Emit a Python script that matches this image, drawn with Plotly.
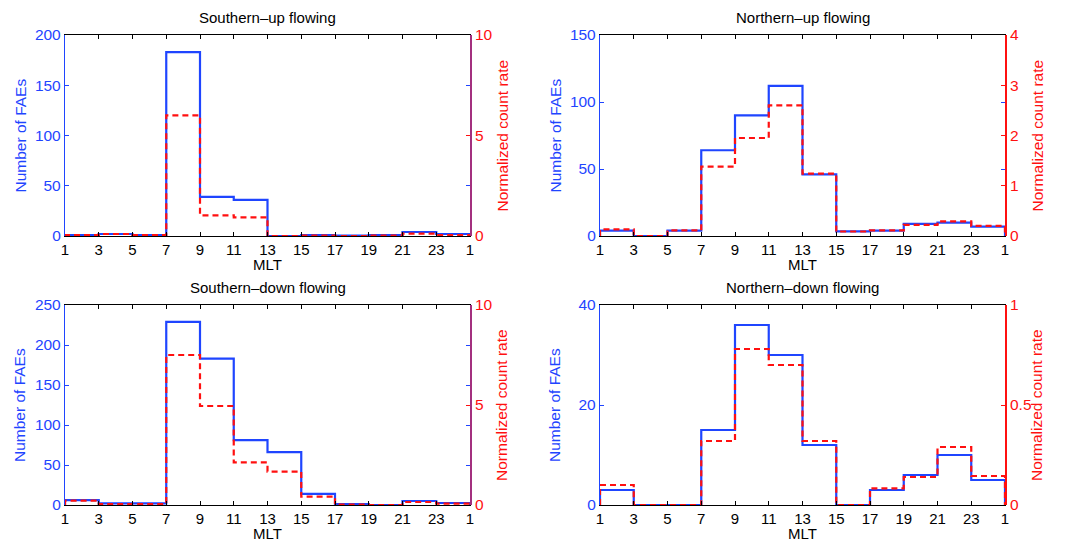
import plotly.graph_objects as go

# ---------------- data ----------------
MLT_LABELS = ["1", "3", "5", "7", "9", "11", "13", "15", "17", "19", "21", "23", "1"]

TITLES = ["Southern\u2013up flowing", "Northern\u2013up flowing",
          "Southern\u2013down flowing", "Northern\u2013down flowing"]

# number of FAEs per 2-h MLT bin (1-3, 3-5, ..., 23-1)
su_count = [1, 2, 1, 183, 39, 36, 0, 1, 0.5, 1, 4, 2]
nu_count = [4, 0, 4, 64, 90, 112, 46, 3.5, 4, 9, 10, 7]
sd_count = [6, 2, 2, 229, 183, 81, 66, 14, 1, 0, 5, 2.5]
nd_count = [3, 0, 0, 15, 36, 30, 12, 0, 3, 6, 10, 5]

# normalized count rate per bin
su_rate = [0.05, 0.1, 0.05, 6.0, 1.03, 0.93, 0, 0.02, 0, 0.02, 0.12, 0.05]
nu_rate = [0.13, 0, 0.11, 1.38, 1.95, 2.6, 1.24, 0.09, 0.11, 0.22, 0.29, 0.2]
sd_rate = [0.22, 0.05, 0.05, 7.5, 4.95, 2.13, 1.67, 0.42, 0.02, 0, 0.15, 0.07]
nd_rate = [0.1, 0, 0, 0.32, 0.78, 0.70, 0.32, 0, 0.083, 0.14, 0.29, 0.145]

COUNTS = [su_count, nu_count, sd_count, nd_count]
RATES = [su_rate, nu_rate, sd_rate, nd_rate]

# axis ranges and ticks
LEFT_RANGE = [200, 150, 250, 40]
LEFT_DTICK = [50, 50, 50, 20]
RIGHT_RANGE = [10, 4, 10, 1]
RIGHT_DTICK = [5, 1, 5, 0.5]

# ---------------- style ----------------
BLUE = "#1f45ff"
RED = "#ff1010"
PURPLE = "#a3307f"
FONT = "Liberation Sans, Arial, Helvetica, sans-serif"
FS = 15.5
XFS = 15

OFF = 8  # page body margin
W, H = 1074 - OFF, 541 - OFF
# panel pixel boxes in window coords (x0, x1, ytop, ybottom)
BOXES = [(65, 470, 35, 236), (600, 1005, 35, 236),
         (65, 470, 305, 505), (600, 1005, 305, 505)]
RIGHT_LINE = [PURPLE, RED, PURPLE, RED]


def px(x):
    return (x - OFF) / W


def py(y):
    return 1 - (y - OFF) / H


def stairs(vals):
    n = len(vals)
    xs = [0] + list(range(n)) + [n, n]
    ys = [0] + list(vals) + [vals[-1], 0]
    return xs, ys


fig = go.Figure()
annotations = []

for i in range(4):
    x0, x1, yt, yb = BOXES[i]
    xd = [px(x0), px(x1)]
    yd = [py(yb), py(yt)]
    xa = "x" if i == 0 else f"x{i+1}"
    ya_l = f"y{2*i+1}" if i > 0 else "y"
    ya_r = f"y{2*i+2}"
    xkey = "xaxis" if i == 0 else f"xaxis{i+1}"
    ylkey = "yaxis" if i == 0 else f"yaxis{2*i+1}"
    yrkey = f"yaxis{2*i+2}"

    xs, ys = stairs(COUNTS[i])
    fig.add_trace(go.Scatter(x=xs, y=ys, mode="lines", line=dict(color=BLUE, width=2.2, shape="hv"),
                             xaxis=xa, yaxis=ya_l, showlegend=False, hoverinfo="skip"))
    xs, ys = stairs(RATES[i])
    fig.add_trace(go.Scatter(x=xs, y=ys, mode="lines",
                             line=dict(color=RED, width=2.2, shape="hv", dash="6px,4px"),
                             xaxis=xa, yaxis=ya_r, showlegend=False, hoverinfo="skip"))

    n = len(MLT_LABELS)
    fig.layout[xkey] = dict(
        domain=xd, anchor=ya_l, range=[0, n - 1], tickmode="array", automargin=False,
        tickvals=list(range(n)), ticktext=MLT_LABELS, ticks="inside", ticklen=4,
        tickcolor="black", showline=True, linecolor="black", linewidth=1.2, mirror="ticks",
        showgrid=False, zeroline=False, tickfont=dict(family=FONT, size=XFS, color="black"),
    )
    fig.layout[ylkey] = dict(
        domain=yd, anchor=xa, range=[0, LEFT_RANGE[i]], dtick=LEFT_DTICK[i], tick0=0,
        automargin=False,
        ticks="inside", ticklen=4, tickcolor=BLUE, showline=True, linecolor=BLUE, linewidth=1.3,
        mirror="ticks", showgrid=False, zeroline=False,
        tickfont=dict(family=FONT, size=FS, color=BLUE),
    )
    fig.layout[yrkey] = dict(
        domain=yd, anchor=xa, overlaying=ya_l, side="right", range=[0, RIGHT_RANGE[i]],
        automargin=False,
        dtick=RIGHT_DTICK[i], tick0=0, ticks="inside", ticklen=4, tickcolor=RED,
        showline=True, linecolor=RIGHT_LINE[i], linewidth=1.8, showgrid=False, zeroline=False,
        tickfont=dict(family=FONT, size=FS, color=RED),
    )

    cx = px((x0 + x1) / 2)
    annotations.append(dict(text=TITLES[i], x=cx, y=py(yt - 18), xref="paper", yref="paper",
                            showarrow=False, font=dict(family=FONT, size=FS - 0.5, color="black"),
                            xanchor="center", yanchor="middle"))
    annotations.append(dict(text="MLT", x=cx, y=py(yb + 28.5), xref="paper", yref="paper",
                            showarrow=False, font=dict(family=FONT, size=XFS, color="black"),
                            xanchor="center", yanchor="middle"))
    annotations.append(dict(text="Number of FAEs", x=px(x0 - 45), y=(yd[0] + yd[1]) / 2,
                            xref="paper", yref="paper", showarrow=False, textangle=-90,
                            font=dict(family=FONT, size=FS, color=BLUE),
                            xanchor="center", yanchor="middle"))
    annotations.append(dict(text="Normalized count rate", x=px(x1 + 32), y=(yd[0] + yd[1]) / 2,
                            xref="paper", yref="paper", showarrow=False, textangle=-90,
                            font=dict(family=FONT, size=FS, color=RED),
                            xanchor="center", yanchor="middle"))

fig.update_layout(
    template="none",
    width=W, height=H, margin=dict(l=0, r=0, t=0, b=0, autoexpand=False),
    paper_bgcolor="white", plot_bgcolor="white", annotations=annotations,
    font=dict(family=FONT),
)

fig.write_html("out.html")
